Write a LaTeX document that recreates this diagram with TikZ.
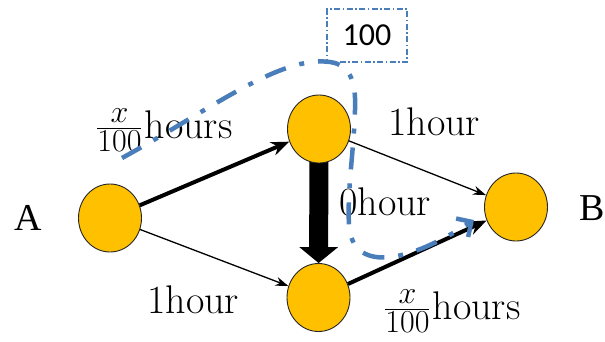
\RequirePackage{fix-cm}
\documentclass[tikz,border=0pt]{standalone}
\usepackage{fontspec}
\newfontfamily\boxfont{Carlito}
\newfontfamily\endfont{Liberation Serif}
\usetikzlibrary{arrows.meta,shapes.geometric,backgrounds}
\definecolor{nodeorange}{RGB}{255,192,0}
\definecolor{flowblue}{RGB}{74,126,187}
\newcommand{\smallpart}[1]{\mbox{\fontsize{32}{34}\selectfont #1}}
\newcommand{\xfrac}{$\frac{\smallpart{$x$}}{\smallpart{100}}$\kern2pt}
\tikzset{
  vert/.style={ellipse,draw=black!85,line width=0.9pt,fill=nodeorange,minimum width=63pt,minimum height=68pt,inner sep=0pt},
  lbl/.style={inner sep=0pt,font=\fontsize{40}{44}\selectfont},
  endlbl/.style={inner sep=0pt,font=\endfont\fontsize{38}{42}\selectfont},
  thinarr/.style={line width=1.3pt,-{Stealth[length=13pt,width=9pt]}},
  thickarr/.style={line width=4pt,-{Stealth[length=18pt,width=14pt]}},
  hugearr/.style={line width=19pt,-{Triangle[length=16pt,width=38pt]},shorten <=-4pt},
  flow/.style={draw=flowblue,line width=4.5pt,dash pattern=on 22pt off 14pt on 5pt off 14pt,-{Straight Barb[length=11pt,width=22pt]}},
  capbox/.style={draw=flowblue,line width=1.2pt,dash pattern=on 6pt off 2.5pt on 1.5pt off 2.5pt,minimum width=80pt,minimum height=53pt,inner sep=0pt,font=\boxfont\fontsize{32}{36}\selectfont}
}
\begin{document}
\begin{tikzpicture}[x=1pt,y=-1pt]
\useasboundingbox (0,0) rectangle (605,341);
\node[vert] (L) at (110,218) {};
\node[vert] (T) at (319,129) {};
\node[vert] (D) at (318.5,297.5) {};
\node[vert] (R) at (516,207) {};
\begin{pgfonlayer}{background}
\draw[thickarr] (L) -- (T);
\draw[thinarr] (L) -- (D);
\draw[thinarr] (T) -- (R);
\draw[hugearr] (T) -- (D);
\draw[thickarr] (D) -- (R);
\end{pgfonlayer}
\node[endlbl,anchor=base] (A) at (28,230) {A};
\node[endlbl,anchor=base west] (B) at (579,220) {B};
\node[lbl,anchor=base west] (lt) at (96,138) {\xfrac hours};
\node[lbl,anchor=base west] (rt) at (388,135) {1hour};
\node[lbl,anchor=base west] (mid) at (339,215) {0hour};
\node[lbl,anchor=base west] (lb) at (147,313) {1hour};
\node[lbl,anchor=base west] (rb) at (384,319) {\xfrac hours};
\node[capbox] (cap) at (367,35.5) {100};
\coordinate (f0) at (122,158);
\coordinate (f1) at (330,62);
\coordinate (f2) at (355,110);
\coordinate (f3) at (349,225);
\coordinate (f4) at (474,220);
\draw[flow] (f0) .. controls (210,110) and (280,55) .. (f1)
  .. controls (352,65) and (356,85) .. (f2)
  .. controls (354,150) and (347,190) .. (f3)
  .. controls (352,272) and (405,265) .. (f4);
\end{tikzpicture}
\end{document}
